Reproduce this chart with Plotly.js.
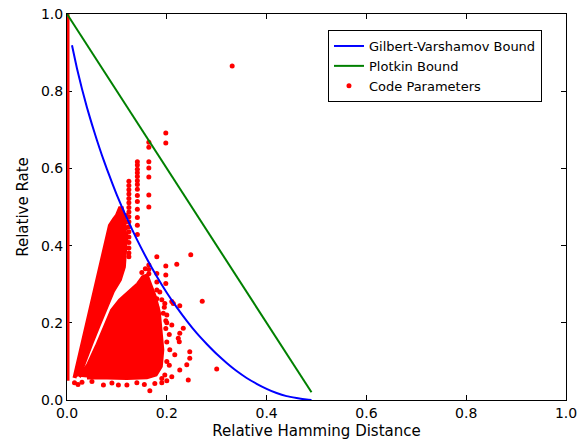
<!DOCTYPE html>
<html>
<head>
<meta charset="utf-8">
<script src="https://cdn.plot.ly/plotly-3.0.1.min.js"></script>
<style>html,body{margin:0;padding:0;background:#fff;}#chart{width:586px;height:445px;}</style>
</head>
<body>
<div id="chart"></div>
<script>
// Gilbert-Varshamov bound
const gvDelta = [0.01,0.02,0.03,0.04,0.05,0.06,0.07,0.08,0.09,0.10,0.12,0.14,0.16,0.18,0.20,0.22,0.24,0.26,0.28,0.30,0.32,0.34,0.36,0.38,0.40,0.42,0.44,0.46,0.48,0.49];
const gvRate  = [0.919,0.859,0.806,0.758,0.714,0.673,0.634,0.598,0.564,0.531,0.471,0.416,0.366,0.320,0.278,0.240,0.205,0.173,0.145,0.119,0.096,0.075,0.057,0.042,0.029,0.018,0.010,0.005,0.001,0.000];

// Plotkin bound
const plotkinDelta = [0.0, 0.49];
const plotkinRate  = [1.0, 0.02];

// Dense run of code parameters along delta ~ 0
const edgeDelta = [0.002, 0.002];
const edgeRate  = [0.05, 1.0];

// Outline of the dense upper fan of code parameters
const upperFanDelta = [0.015,0.040,0.0635,0.086,0.094,0.100,0.106,0.110,0.115,0.117,0.114,0.106,0.092,0.078,0.064,0.050,0.034,0.024];
const upperFanRate  = [0.057,0.196,0.330,0.452,0.468,0.478,0.497,0.497,0.465,0.400,0.345,0.312,0.282,0.235,0.195,0.150,0.095,0.062];

// Outline of the dense lower cluster of code parameters
const lowerDelta = [0.024,0.042,0.060,0.076,0.090,0.106,0.126,0.142,0.152,0.160,0.167,0.176,0.184,0.188,0.191,0.188,0.178,0.160,0.120,0.080,0.040];
const lowerRate  = [0.060,0.090,0.140,0.190,0.232,0.258,0.280,0.300,0.318,0.322,0.298,0.268,0.228,0.180,0.130,0.087,0.066,0.059,0.057,0.058,0.058];

// Individually visible code parameters
const codeDelta = [
  0.124,0.124,0.124,0.124,0.124,0.124,0.124,0.124,0.124,0.124,0.124,0.124,0.124,0.124,0.124,0.124,0.124,
  0.141,0.141,0.141,0.141,0.141,0.141,0.141,0.141,0.141,0.141,0.141,0.141,0.141,0.141,
  0.164,0.164,0.164,0.164,0.164,0.164,0.164,0.164,0.164,0.164,
  0.198,0.198,
  0.331,
  0.180,0.180,0.180,0.180,0.180,0.180,
  0.198,0.198,0.198,0.196,0.193,0.198,0.198,
  0.220,0.248,0.271,0.300,
  0.213,0.226,0.233,0.226,0.223,0.225,0.210,0.246,0.246,0.240,0.243,0.226,0.210,0.196,0.190,0.216,0.206,0.210,
  0.166,0.176,0.103,0.120,0.073,0.140,0.050,0.030,0.090,0.155,0.190,0.200,0.015,0.022,
  0.200,0.205,0.200,0.200,0.205,0.195,0.200,0.190,0.186,0.150,0.157,
  0.118,0.118,0.118,0.118,0.118
];
const codeRate = [
  0.567,0.556,0.545,0.534,0.522,0.511,0.499,0.487,0.475,0.462,0.449,0.436,0.422,0.408,0.394,0.381,0.371,
  0.617,0.609,0.598,0.589,0.579,0.568,0.558,0.546,0.530,0.514,0.494,0.473,0.453,0.429,
  0.668,0.655,0.617,0.601,0.578,0.531,0.500,0.350,0.338,0.327,
  0.692,0.666,
  0.865,
  0.371,0.328,0.306,0.285,0.262,0.240,
  0.347,0.324,0.302,0.250,0.225,0.205,0.185,
  0.352,0.376,0.256,0.080,
  0.250,0.244,0.186,0.173,0.160,0.151,0.194,0.125,0.108,0.091,0.052,0.078,0.060,0.065,0.056,0.117,0.130,0.255,
  0.024,0.043,0.039,0.039,0.039,0.045,0.048,0.046,0.044,0.040,0.045,0.050,0.045,0.040,
  0.200,0.170,0.150,0.100,0.090,0.240,0.220,0.260,0.280,0.330,0.340,
  0.478,0.462,0.446,0.430,0.414
];

const RED = '#ff0000';
const traces = [
  {x: edgeDelta, y: edgeRate, mode: 'lines', line: {color: RED, width: 3}, showlegend: false, hoverinfo: 'skip'},
  {x: upperFanDelta, y: upperFanRate, mode: 'lines', fill: 'toself', fillcolor: RED,
   line: {color: RED, width: 4}, showlegend: false, hoverinfo: 'skip'},
  {x: lowerDelta, y: lowerRate, mode: 'lines', fill: 'toself', fillcolor: RED,
   line: {color: RED, width: 4}, showlegend: false, hoverinfo: 'skip'},
  {x: codeDelta, y: codeRate, mode: 'markers', name: 'Code Parameters',
   marker: {color: RED, size: 5}, legendrank: 3},
  {x: gvDelta, y: gvRate, mode: 'lines', name: 'Gilbert-Varshamov Bound',
   line: {color: '#0000ff', width: 2, shape: 'spline', smoothing: 0.6}, legendrank: 1},
  {x: plotkinDelta, y: plotkinRate, mode: 'lines', name: 'Plotkin Bound',
   line: {color: '#008000', width: 2}, legendrank: 2}
];

const axisBase = {
  range: [0, 1], tick0: 0, dtick: 0.2, tickformat: '.1f',
  ticks: 'inside', ticklen: 5, tickwidth: 1, tickcolor: '#000',
  showline: true, linecolor: '#000', linewidth: 1, mirror: 'ticks',
  showgrid: false, zeroline: false, layer: 'below traces',
  tickfont: {family: 'DejaVu Sans', size: 14, color: '#000'}
};

const layout = {
  width: 586, height: 445,
  margin: {l: 67, r: 20, t: 14, b: 45},
  paper_bgcolor: '#fff', plot_bgcolor: '#fff',
  font: {family: 'DejaVu Sans', size: 14, color: '#000'},
  xaxis: Object.assign({}, axisBase, {
    title: {text: 'Relative Hamming Distance', font: {family: 'DejaVu Sans', size: 15, color: '#000'}, standoff: 5}
  }),
  yaxis: Object.assign({}, axisBase, {
    title: {text: 'Relative Rate', font: {family: 'DejaVu Sans', size: 15, color: '#000'}, standoff: 8}
  }),
  legend: {
    x: 0.523, y: 0.9585, xanchor: 'left', yanchor: 'top',
    bgcolor: '#fff', bordercolor: '#000', borderwidth: 1,
    font: {family: 'DejaVu Sans', size: 13, color: '#000'},
    traceorder: 'normal'
  },
  showlegend: true
};

Plotly.newPlot('chart', traces, layout, {displayModeBar: false, staticPlot: true});
</script>
</body>
</html>
